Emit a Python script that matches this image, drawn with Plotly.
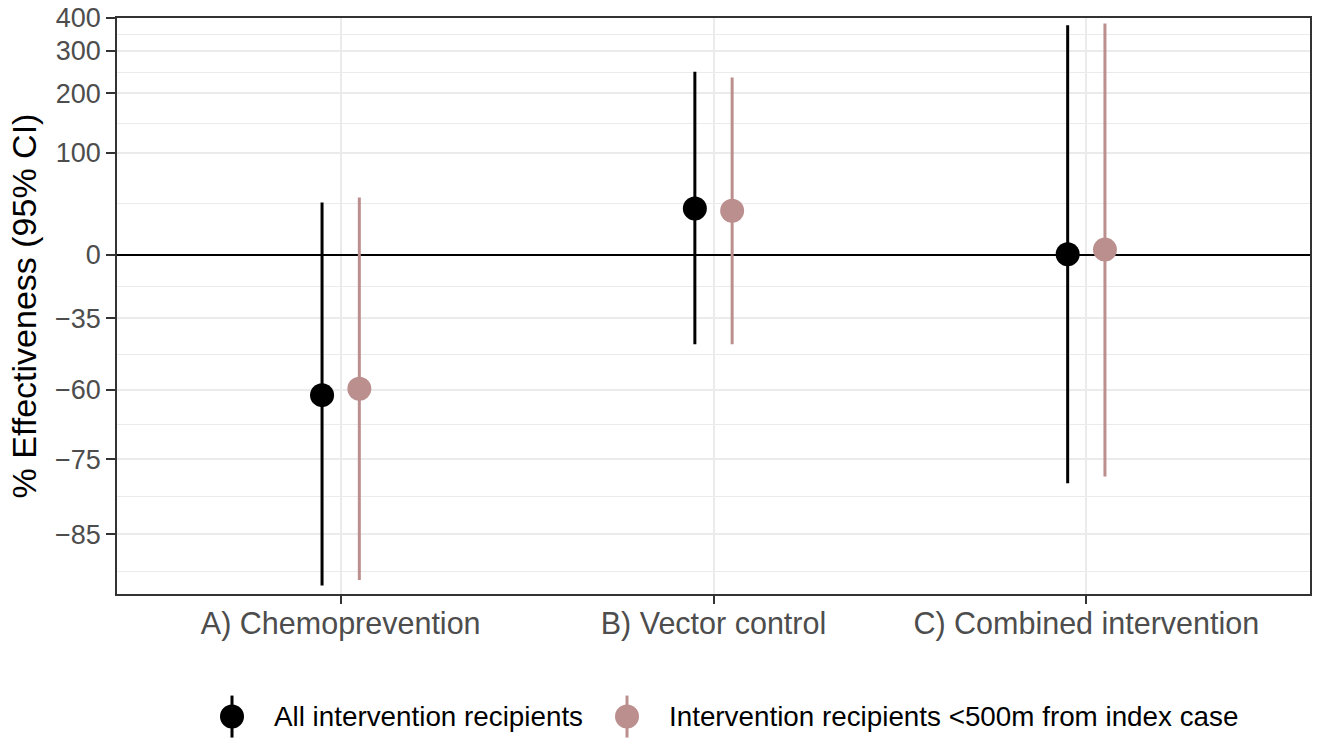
import numpy as np
import plotly.graph_objects as go

# ---- data (percent effectiveness) ----
categories = ["A) Chemoprevention", "B) Vector control", "C) Combined intervention"]
groups = ["All intervention recipients", "Intervention recipients <500m from index case"]

all_est = [-61.4, 37.1, 0.5]
all_lo = [-89.4, -45.5, -78.8]
all_hi = [42.8, 246.9, 376.0]

near_est = [-59.7, 35.0, 3.7]
near_lo = [-89.0, -45.5, -77.8]
near_hi = [47.7, 234.0, 382.0]

y_ticks = [400, 300, 200, 100, 0, -35, -60, -75, -85]
y_ticktext = ["400", "300", "200", "100", "0", "\u221235", "\u221260", "\u221275", "\u221285"]
y_limits = [-90, 400]

colors = ["#000000", "#BC8F8F"]
dodge = [-0.05, 0.05]


def tr(v):
    return np.log1p(np.asarray(v, dtype=float) / 100.0)


fig = go.Figure()
xbase = np.arange(1, len(categories) + 1)
for est, lo, hi, col, dx, name in [
    (all_est, all_lo, all_hi, colors[0], dodge[0], groups[0]),
    (near_est, near_lo, near_hi, colors[1], dodge[1], groups[1]),
]:
    e = tr(est)
    fig.add_trace(go.Scatter(
        x=xbase + dx, y=e, mode="markers", name=name, showlegend=False,
        marker=dict(color=col, size=24, line=dict(width=0)),
        error_y=dict(type="data", symmetric=False, array=tr(hi) - e,
                     arrayminus=e - tr(lo), color=col, thickness=3, width=0),
    ))

# minor gridlines: midpoints between major ticks (transformed space)
tv = np.sort(tr(y_ticks))
mids = list((tv[:-1] + tv[1:]) / 2)
mids.append(tv[0] - (tv[1] - tv[0]) / 2)

ymin, ymax = tr(y_limits)
eps = 1e-4

fig.update_layout(
    width=1320, height=739,
    paper_bgcolor="white", plot_bgcolor="white",
    margin=dict(l=117, r=10, t=18, b=145),
    font=dict(family="Liberation Sans, Arial, sans-serif", color="black"),
    xaxis=dict(
        range=[0.4, 3.6], tickvals=list(xbase), ticktext=categories,
        tickfont=dict(size=30.5, color="#4D4D4D"),
        showgrid=True, gridcolor="#EBEBEB", gridwidth=2,
        ticks="outside", ticklen=8, tickcolor="#333333", tickwidth=2,
        ticklabelstandoff=-6,
        showline=True, linecolor="#333333", linewidth=1.5, mirror=True,
        zeroline=False, automargin=False,
    ),
    yaxis=dict(
        range=[ymin - eps, ymax + eps], tickvals=list(tr(y_ticks)), ticktext=y_ticktext,
        tickfont=dict(size=27, color="#4D4D4D"),
        showgrid=True, gridcolor="#EBEBEB", gridwidth=2,
        ticks="outside", ticklen=9, tickcolor="#333333", tickwidth=2,
        ticklabeloverflow="allow",
        showline=True, linecolor="#333333", linewidth=1.5, mirror=True,
        zeroline=True, zerolinecolor="black", zerolinewidth=2,
        automargin=False,
        title=dict(text="% Effectiveness (95% CI)", font=dict(size=34, color="black"), standoff=8),
        minor=dict(tickvals=mids, showgrid=True, gridcolor="#EBEBEB", gridwidth=1, ticks=""),
    ),
)

# manual legend (pointrange keys)
leg_y = -0.2128
for xc, col, text in [(0.0964, colors[0], groups[0]), (0.4275, colors[1], groups[1])]:
    fig.add_shape(type="line", xref="paper", yref="paper", xsizemode="pixel", ysizemode="pixel",
                  xanchor=xc, yanchor=leg_y, x0=0, x1=0, y0=-21, y1=21,
                  line=dict(color=col, width=3))
    fig.add_shape(type="circle", xref="paper", yref="paper", xsizemode="pixel", ysizemode="pixel",
                  xanchor=xc, yanchor=leg_y, x0=-12, x1=12, y0=-12, y1=12,
                  fillcolor=col, line=dict(color=col, width=0))
    fig.add_annotation(xref="paper", yref="paper", x=xc, y=leg_y, xshift=40, text=text,
                       showarrow=False, xanchor="left", yanchor="middle",
                       font=dict(size=27.8, color="black"))

fig.write_html("out.html", config={"displayModeBar": False},
               post_script="document.body.style.margin='0';")
